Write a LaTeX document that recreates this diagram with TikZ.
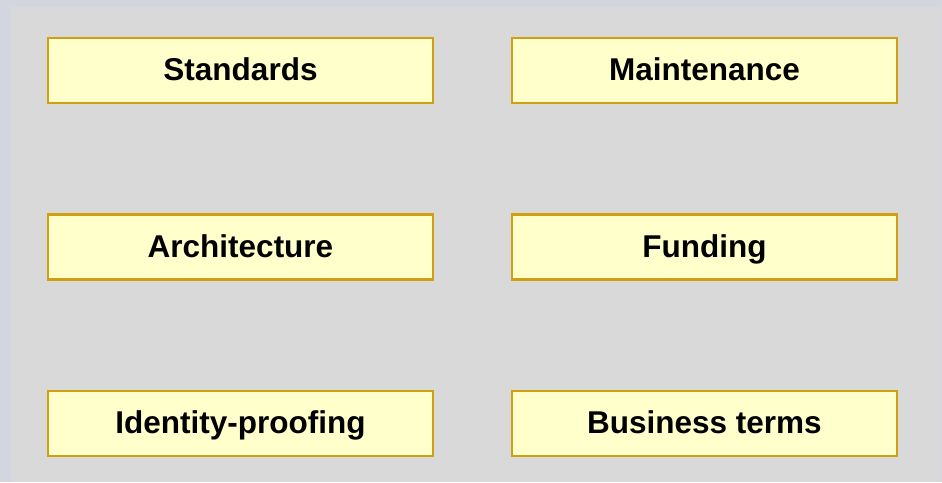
\documentclass[tikz,border=0pt]{standalone}
\usepackage{fontspec}
\setmainfont{Liberation Sans}
\definecolor{outerbg}{HTML}{D3D6DE}
\definecolor{panelbg}{HTML}{D9D9D9}
\definecolor{boxfill}{HTML}{FFFFCC}
\definecolor{boxline}{HTML}{D0A010}
\tikzset{
  topicbox/.style={draw=boxline, fill=boxfill, line width=2.5pt,
    minimum width=385pt, minimum height=65pt, inner sep=0pt,
    text height=22pt, text depth=2pt,
    font=\fontsize{31.5}{36}\selectfont\bfseries}
}
\begin{document}
\begin{tikzpicture}[x=1pt,y=-1pt]
            \useasboundingbox (0,0) rectangle (942,482);
            \fill[outerbg] (0,0) rectangle (942,482); % Hintergrund
            \fill[panelbg] (11,7) rectangle (941,482); % Fläche

            % linke Spalte
            \node[topicbox] (standards) at (240.5,70.5) {Standards};
            \node[topicbox] (architecture) at (240.5,247) {Architecture};
            \node[topicbox] (identity) at (240.5,423.5) {Identity-proofing};

            % rechte Spalte
            \node[topicbox] (maintenance) at (704.5,70.5) {Maintenance};
            \node[topicbox] (funding) at (704.5,247) {Funding};
            \node[topicbox] (business) at (704.5,423.5) {Business terms};
\end{tikzpicture}
\end{document}
